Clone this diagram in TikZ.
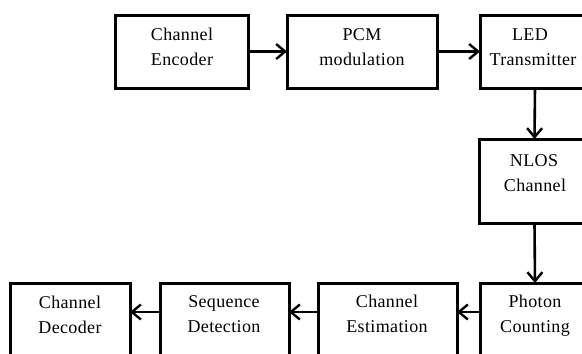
\documentclass[tikz,border=0pt]{standalone}
\usepackage{fontspec}
\setmainfont[LetterSpace=2]{Liberation Serif}
\usetikzlibrary{arrows.meta}
\tikzset{
  blockbox/.style={draw, line width=3pt, rectangle, inner sep=0pt, outer sep=0pt},
  txt/.style={anchor=base, inner sep=0pt, font=\fontsize{18}{21}\selectfont},
  flow/.style={line width=2.6pt, -{Straight Barb[length=9pt,width=15pt,line width=2.4pt]}},
  midrow/.style={yshift=14.5pt}
}
\begin{document}
\begin{tikzpicture}[x=1pt, y=-1pt]
  \useasboundingbox (0,0) rectangle (582,354);
  \clip (0,0) rectangle (582,354);
  \fill[white] (0,0) rectangle (582,354);

  % transmitter chain
  \node[blockbox, minimum width=133pt, minimum height=73pt] (enc)  at (181.5,51.5) {};
  \node[blockbox, minimum width=150pt, minimum height=73pt] (pcm)  at (362,51.5) {};
  \node[blockbox, minimum width=110pt, minimum height=73pt] (led)  at (535,51.5) {};
  \node[blockbox, minimum width=111pt, minimum height=84pt] (nlos) at (534.5,181) {};

  % receiver chain
  \node[blockbox, minimum width=110pt, minimum height=87pt] (phc) at (535,326.5) {};
  \node[blockbox, minimum width=139pt, minimum height=87pt] (est) at (387.5,326.5) {};
  \node[blockbox, minimum width=129pt, minimum height=87pt] (seq) at (224.5,326.5) {};
  \node[blockbox, minimum width=120pt, minimum height=87pt] (dec) at (70,326.5) {};

  % block labels
  \node[txt] (enc1) at (182,40) {Channel};
  \node[txt] (enc2) at (182,65) {Encoder};
  \node[txt] (pcm1) at (362,40) {PCM};
  \node[txt] (pcm2) at (362,65) {modulation};
  \node[txt] (led1) at (530,40) {LED};
  \node[txt] (led2) at (533,65) {Transmitter};
  \node[txt] (nlos1) at (534,166) {NLOS};
  \node[txt] (nlos2) at (535,191) {Channel};
  \node[txt] (phc1) at (535,307) {Photon};
  \node[txt] (phc2) at (535,332) {Counting};
  \node[txt] (est1) at (387,307) {Channel};
  \node[txt] (est2) at (387,332) {Estimation};
  \node[txt] (seq1) at (224,307) {Sequence};
  \node[txt] (seq2) at (224,332) {Detection};
  \node[txt] (dec1) at (70,308) {Channel};
  \node[txt] (dec2) at (70,333) {Decoder};

  % connectors
  \draw[flow] (enc.east) -- (pcm.west);
  \draw[flow] (pcm.east) -- (led.west);
  \draw[flow] (led.south) -- (nlos.north);
  \draw[flow] (nlos.south) -- (phc.north);
  \draw[flow] ([midrow]phc.west) -- ([midrow]est.east);
  \draw[flow] ([midrow]est.west) -- ([midrow]seq.east);
  \draw[flow] ([midrow]seq.west) -- ([midrow]dec.east);
\end{tikzpicture}
\end{document}
